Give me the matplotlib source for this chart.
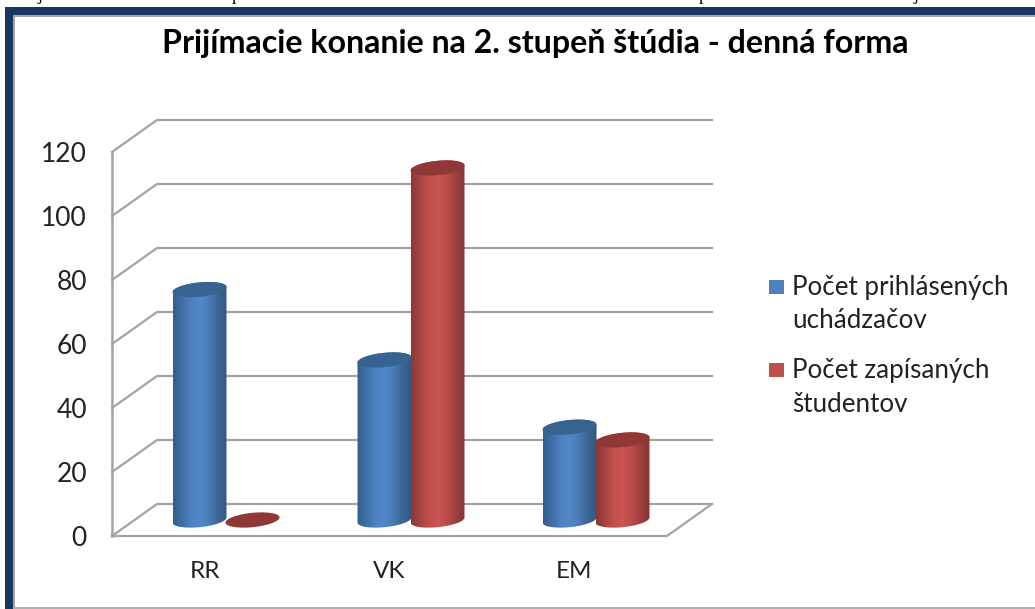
import numpy as np
import matplotlib
matplotlib.use('Agg')
import matplotlib.pyplot as plt
from matplotlib.colors import LinearSegmentedColormap
from matplotlib.patches import PathPatch, Rectangle
from matplotlib.path import Path

categories = ['RR', 'VK', 'EM']
prihlaseni = [72, 50, 29]
zapisani = [0, 110, 25]
y_ticks = [0, 20, 40, 60, 80, 100, 120]
title = 'Prijímacie konanie na 2. stupeň štúdia - denná forma'
legend_labels = ['Počet prihlásených\nuchádzačov', 'Počet zapísaných\nštudentov']

W, H = 1035, 609
FONT = 'Lato'
GRID = '#a3a3a3'
NAVY = '#17375e'

# depth of the fake 3d box, in data units
DX = 45 / 185
DY = 10
BAR_W = 54 / 185
SEP = 53 / 185
B = 2.25   # ellipse half height
K = 0.8    # ellipse tilt

fig = plt.figure(figsize=(W / 100, H / 100), dpi=100, facecolor='white')
ax = fig.add_axes([112 / W, (H - 536) / H, 555 / W, 384 / H])
ax.set_xlim(0, 3)
ax.set_ylim(0, 120)
ax.patch.set_visible(False)
for s in ax.spines.values():
    s.set_visible(False)

ax.set_yticks(y_ticks)
ax.set_yticklabels([str(v) for v in y_ticks], fontsize=19, family=FONT, color='#222222')
x_pos = np.arange(len(categories)) + 0.5
ax.set_xticks(x_pos)
ax.set_xticklabels(categories, fontsize=17.5, family=FONT, color='#222222')
ax.tick_params(axis='y', length=0, pad=18)
ax.tick_params(axis='x', length=0, pad=18)

# walls and floor
for v in y_ticks:
    ax.plot([0, DX, 3 + DX], [v, v + DY, v + DY], color=GRID, lw=1.6, clip_on=False, zorder=1,
            solid_joinstyle='miter')
ax.plot([0, 0], [0, 120], color=GRID, lw=1.8, clip_on=False, zorder=1)
ax.plot([0, 3, 3 + DX], [0, 0, DY], color=GRID, lw=1.6, clip_on=False, zorder=1,
        solid_joinstyle='miter')


def ellipse(cx, cy, t):
    a = BAR_W / 2
    return np.column_stack([cx + a * np.cos(t), cy + B * np.sin(t) + K * np.cos(t)])


def cylinder(cx, value, cmap, top_color, z):
    base = DY / 2
    top = base + value
    t_all = np.linspace(0, 2 * np.pi, 80)
    if value > 0:
        low = ellipse(cx, base, np.linspace(np.pi, 2 * np.pi, 50))
        up = ellipse(cx, top, np.linspace(0, np.pi, 50))
        pts = np.vstack([low, up, low[:1]])
        body = PathPatch(Path(pts), transform=ax.transData, fc='none', ec='none')
        ax.add_patch(body)
        grad = np.linspace(0, 1, 128).reshape(1, -1)
        im = ax.imshow(grad, cmap=cmap, aspect='auto', zorder=z, clip_on=True,
                       extent=[cx - BAR_W / 2, cx + BAR_W / 2, base - 4, top + 4])
        im.set_clip_path(body)
    ax.fill(*ellipse(cx, top, t_all).T, color=top_color, zorder=z + 0.1, clip_on=False, lw=0)


blue_map = LinearSegmentedColormap.from_list('b', ['#32608f', '#3f6fa6', '#4f81c0', '#5288cb', '#4a7bb5', '#3a6595', '#31597f'])
red_map = LinearSegmentedColormap.from_list('r', ['#8a3836', '#a84443', '#c44f4d', '#cb5553', '#bb4c4a', '#9c403e', '#843634'])

off = DX / 2 - 1 / 185
for i in range(len(categories)):
    cylinder(i + 0.5 + off - SEP / 2, prihlaseni[i], blue_map, '#376390', 3)
for i in range(len(categories)):
    cylinder(i + 0.5 + off + SEP / 2, zapisani[i], red_map, '#8f3836', 4)
ax.set_xlim(0, 3)
ax.set_ylim(0, 120)

fig.text(535 / W, 1 - 53 / H, title, fontsize=23.1, fontweight='bold', family=FONT,
         ha='center', va='baseline', color='black')

# legend
for c, y0, lab, ty in zip(['#4f81bd', '#c0504d'], [280, 363], legend_labels, [295, 378]):
    fig.patches.append(Rectangle((769 / W, 1 - (y0 + 14) / H), 15 / W, 14 / H, transform=fig.transFigure,
                                 fc=c, ec='none'))
    first, second = lab.split('\n')
    fig.text(792 / W, 1 - ty / H, first, fontsize=18.7, family=FONT, color='#222222', va='baseline')
    fig.text(792 / W, 1 - (ty + 33.5) / H, second, fontsize=18.7, family=FONT, color='#222222', va='baseline')

# frame of the pasted picture, open on the right
frame = [(5, 7, W - 5, 8, NAVY), (5, 7, 8, H - 7, NAVY), (13, 15, W - 13, 1.5, '#a6a6a6'),
         (13, 15, 1.5, H - 15, '#a6a6a6'), (13, 607, W - 13, 2, '#b0b0b0')]
for x, y, w, h, c in frame:
    fig.patches.append(Rectangle((x / W, 1 - (y + h) / H), w / W, h / H, transform=fig.transFigure,
                                 fc=c, ec='none'))

# cut off line of document text above the picture
for x, ch in zip([40, 236, 703, 916], 'jppj'):
    fig.text(x / W, 1.0, ch, fontsize=13, family='Liberation Serif', ha='center', va='baseline', color='black')

fig.savefig('out.png', dpi=100)
